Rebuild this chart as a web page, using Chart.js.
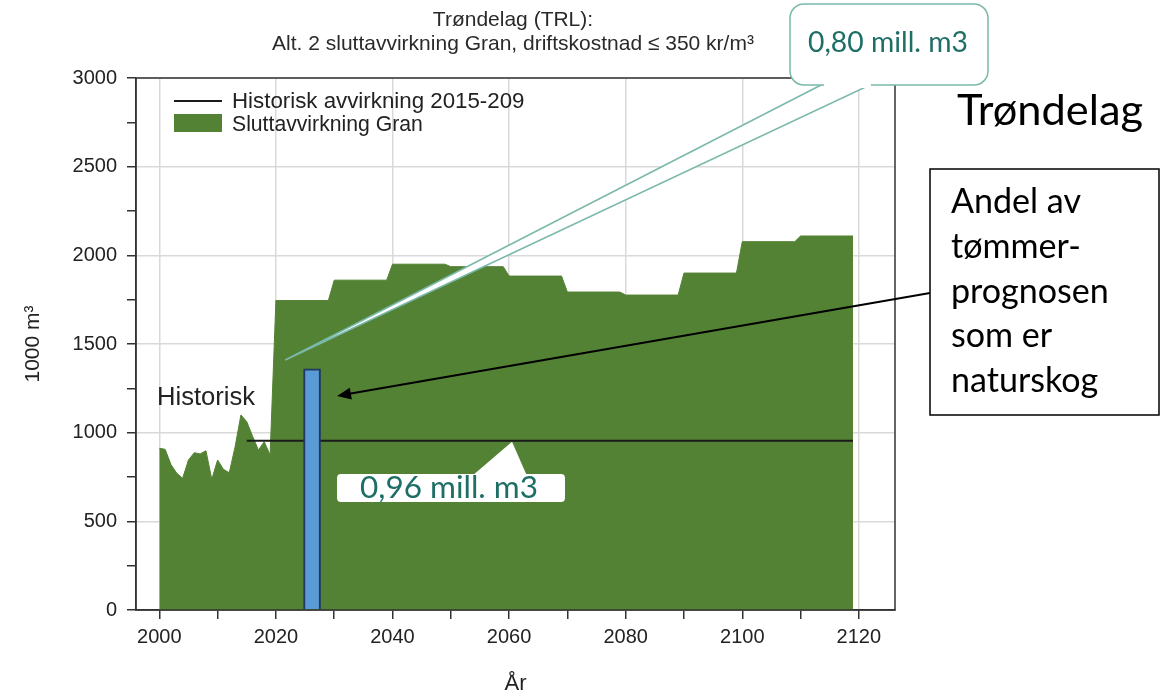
<!DOCTYPE html>
<html>
<head>
<meta charset="utf-8">
<script src="https://cdn.jsdelivr.net/npm/chart.js@4.4.0/dist/chart.umd.min.js"></script>
<style>
  body { margin: 0; background: #fff; }
  canvas { display: block; }
</style>
</head>
<body>
<canvas id="myChart" width="1176" height="697"></canvas>
<script>
// Historical cut, 1000 m3 per year
const histYears = [2000, 2001, 2002, 2003, 2004, 2005, 2006, 2007, 2008, 2009,
  2010, 2011, 2012, 2013, 2014, 2015, 2016, 2017, 2018, 2019]
const histValues = [912, 906, 820, 771, 743, 846, 887, 880, 898, 737,
  846, 793, 774, 921, 1100, 1062, 980, 902, 949, 874]

// Forecast final felling spruce, one level per decade
const decadeStarts = [2020, 2030, 2040, 2050, 2060, 2070, 2080, 2090, 2100, 2110]
const decadeValues = [1745, 1860, 1950, 1936, 1883, 1793, 1776, 1900, 2077, 2109]

// Average historical cut (0,96 mill. m3)
const avgYears = [2015, 2119]
const avgValue = 955

// Share of the forecast that is natural forest
const barYear = 2026.2
const barValue = 1360

// Tick labels
const xLabelYears = [2000, 2020, 2040, 2060, 2080, 2100, 2120]
const yLabelValues = [0, 500, 1000, 1500, 2000, 2500, 3000]

const areaPoints = histYears.map((yr, i) => ({ x: yr, y: histValues[i] }))
decadeStarts.forEach((d, i) => {
  areaPoints.push({ x: d, y: decadeValues[i] }, { x: d + 9, y: decadeValues[i] })
})

const ARIAL = '"Liberation Sans", Arial, sans-serif'
const CALIBRI = 'Lato, "Open Sans", sans-serif'
const TEAL = '#1d6f66'
const TEAL_LINE = '#7ab8aa'

function fitText(ctx, text, x, y, width, family, color) {
  ctx.font = '100px ' + family
  const size = 100 * width / ctx.measureText(text).width
  ctx.font = size.toFixed(1) + 'px ' + family
  ctx.fillStyle = color
  ctx.textAlign = 'left'
  ctx.textBaseline = 'alphabetic'
  ctx.fillText(text, x, y)
  return size
}

function roundBox(ctx, x, y, w, h, r) {
  ctx.beginPath()
  ctx.roundRect(x, y, w, h, r)
}

const overlay = {
  id: 'overlay',
  afterDatasetsDraw(chart) {
    const { ctx, chartArea: a } = chart
    ctx.save()
    ctx.strokeStyle = '#333'
    ctx.lineWidth = 1.5
    ctx.strokeRect(a.left, a.top, a.right - a.left, a.bottom - a.top)
    ctx.restore()
  },
  afterDraw(chart) {
    const { ctx, scales: { x, y } } = chart
    ctx.save()

    // title
    ctx.fillStyle = '#2a2a2a'
    ctx.textAlign = 'center'
    ctx.textBaseline = 'alphabetic'
    ctx.font = '21px ' + ARIAL
    ctx.fillText('Trøndelag (TRL):', 513, 26)
    ctx.fillText('Alt. 2 sluttavvirkning Gran, driftskostnad ≤ 350 kr/m³', 513, 50)

    // legend
    ctx.strokeStyle = '#1a1a1a'
    ctx.lineWidth = 2
    ctx.beginPath()
    ctx.moveTo(174, 101)
    ctx.lineTo(222, 101)
    ctx.stroke()
    ctx.fillStyle = '#548235'
    ctx.fillRect(174, 114, 48, 18)
    fitText(ctx, 'Historisk avvirkning 2015-209', 232, 108, 293, ARIAL, '#222')
    fitText(ctx, 'Sluttavvirkning Gran', 232, 131, 191, ARIAL, '#222')

    fitText(ctx, 'Historisk', 157, 405, 98, ARIAL, '#222')

    // 0,96 callout pointing at the average line
    const apexX = x.getPixelForValue(2060.5)
    const apexY = y.getPixelForValue(avgValue)
    ctx.fillStyle = '#fff'
    ctx.beginPath()
    ctx.moveTo(472, 476)
    ctx.lineTo(apexX, apexY + 1)
    ctx.lineTo(527, 476)
    ctx.closePath()
    ctx.fill()
    roundBox(ctx, 337, 474, 228, 28, 4)
    ctx.fill()
    fitText(ctx, '0,96 mill. m3', 360, 498, 178, CALIBRI, TEAL)

    // 0,80 callout with long tail
    const tipX = x.getPixelForValue(2021.6)
    const tipY = y.getPixelForValue(1410)
    ctx.fillStyle = '#fff'
    ctx.strokeStyle = TEAL_LINE
    ctx.lineWidth = 1.5
    ctx.beginPath()
    ctx.moveTo(823, 84)
    ctx.lineTo(tipX, tipY)
    ctx.lineTo(872, 84)
    ctx.closePath()
    ctx.fill()
    ctx.stroke()
    roundBox(ctx, 790, 4, 198, 81, 14)
    ctx.fill()
    ctx.stroke()
    ctx.fillRect(824, 82, 47, 6)
    fitText(ctx, '0,80 mill. m3', 808, 52, 160, CALIBRI, TEAL)

    // region label
    fitText(ctx, 'Trøndelag', 957, 125, 186, CALIBRI, '#000')

    // note box
    ctx.fillStyle = '#fff'
    ctx.strokeStyle = '#000'
    ctx.lineWidth = 1.5
    ctx.fillRect(930, 169, 229, 246)
    ctx.strokeRect(930, 169, 229, 246)
    ctx.font = '100px ' + CALIBRI
    const boxSize = 100 * 158 / ctx.measureText('prognosen').width
    ctx.font = boxSize.toFixed(1) + 'px ' + CALIBRI
    ctx.fillStyle = '#000'
    ctx.textAlign = 'left'
    const lines = ['Andel av', 'tømmer-', 'prognosen', 'som er', 'naturskog']
    lines.forEach((t, i) => ctx.fillText(t, 951, 213 + i * 44.8))

    // arrow to the bar
    const ax = x.getPixelForValue(barYear) + 25
    const ay = y.getPixelForValue(1207)
    ctx.strokeStyle = '#000'
    ctx.lineWidth = 2
    ctx.beginPath()
    ctx.moveTo(930, 293)
    ctx.lineTo(ax + 8, ay - 1.4)
    ctx.stroke()
    const ang = Math.atan2(ay - 293, ax - 930)
    ctx.fillStyle = '#000'
    ctx.beginPath()
    ctx.moveTo(ax, ay)
    ctx.lineTo(ax - 14 * Math.cos(ang) + 6 * Math.sin(ang), ay - 14 * Math.sin(ang) - 6 * Math.cos(ang))
    ctx.lineTo(ax - 14 * Math.cos(ang) - 6 * Math.sin(ang), ay - 14 * Math.sin(ang) + 6 * Math.cos(ang))
    ctx.closePath()
    ctx.fill()

    ctx.restore()
  }
}

const ctx = document.getElementById('myChart').getContext('2d')
const chart = new Chart(ctx, {
  type: 'line',
  data: {
    datasets: [
      {
        type: 'bar',
        label: 'Naturskog',
        data: [{ x: barYear, y: barValue }],
        backgroundColor: '#5b9bd5',
        borderColor: '#1f3864',
        borderWidth: 2,
        barThickness: 17,
        order: 0
      },
      {
        label: 'Historisk avvirkning 2015-209',
        data: avgYears.map(yr => ({ x: yr, y: avgValue })),
        borderColor: '#1a1a1a',
        borderWidth: 2,
        pointRadius: 0,
        fill: false,
        order: 1
      },
      {
        label: 'Sluttavvirkning Gran',
        data: areaPoints,
        borderColor: '#548235',
        backgroundColor: '#548235',
        borderWidth: 1,
        pointRadius: 0,
        tension: 0,
        fill: 'origin',
        order: 2
      }
    ]
  },
  options: {
    responsive: false,
    animation: false,
    devicePixelRatio: 1,
    layout: { padding: { left: 0, top: 78, right: 281, bottom: 0 } },
    plugins: { legend: { display: false }, tooltip: { enabled: false } },
    scales: {
      x: {
        type: 'linear',
        min: 1996,
        max: 2126.2,
        offset: false,
        afterFit: s => { s.height = 87 },
        ticks: {
          stepSize: 10,
          includeBounds: false,
          autoSkip: false,
          maxRotation: 0,
          padding: 6,
          color: '#222',
          font: { family: ARIAL, size: 20 },
          callback: v => xLabelYears.includes(v) ? String(v) : ''
        },
        grid: {
          offset: false,
          color: c => xLabelYears.includes(c.tick && c.tick.value) ? '#d9d9d9' : 'rgba(0,0,0,0)',
          lineWidth: 1.5,
          tickLength: 9,
          tickColor: '#333',
          tickWidth: 1.5
        },
        border: { color: '#333', width: 1.5 },
        title: {
          display: true,
          text: 'År',
          color: '#222',
          font: { family: ARIAL, size: 22 },
          padding: { top: 0, bottom: 0 }
        }
      },
      y: {
        min: 0,
        max: 3000,
        afterFit: s => { s.width = 136 },
        ticks: {
          stepSize: 250,
          autoSkip: false,
          padding: 10,
          color: '#222',
          font: { family: ARIAL, size: 20 },
          callback: v => yLabelValues.includes(v) ? String(v) : ''
        },
        grid: {
          color: c => yLabelValues.includes(c.tick && c.tick.value) ? '#d9d9d9' : 'rgba(0,0,0,0)',
          lineWidth: 1.5,
          tickLength: 9,
          tickColor: '#333',
          tickWidth: 1.5
        },
        border: { color: '#333', width: 1.5 },
        title: {
          display: true,
          text: '1000 m³',
          color: '#222',
          font: { family: ARIAL, size: 21 },
          padding: { top: 21, bottom: 0 }
        }
      }
    }
  },
  plugins: [overlay]
})
</script>
</body>
</html>
